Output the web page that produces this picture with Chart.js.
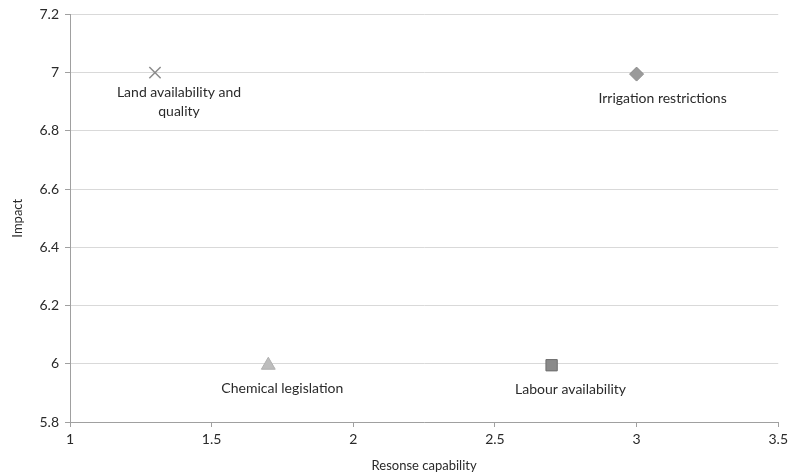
<!DOCTYPE html>
<html>
<head>
<meta charset="utf-8">
<script src="https://cdn.jsdelivr.net/npm/chart.js@4.4.0/dist/chart.umd.min.js"></script>
<style>
html,body{margin:0;padding:0;background:#fff;}
#wrap{width:792px;height:476px;}
</style>
</head>
<body>
<div id="wrap"><canvas id="c" width="792" height="476"></canvas></div>
<script>
const categories = ["Land availability and\nquality", "Irrigation restrictions", "Chemical legislation", "Labour availability"];
const responseCapability = [1.3, 3.0, 1.7, 2.7];
const impact = [7.0, 6.995, 5.995, 5.995];
const xTicks = [1, 1.5, 2, 2.5, 3, 3.5];
const yTicks = [5.8, 6, 6.2, 6.4, 6.6, 6.8, 7, 7.2];

const markerStyles = ["crossRot", "rectRot", "triangle", "rect"];
const markerFill = ["#8c8c8c", "#9a9a9a", "#bdbdbd", "#8a8a8a"];
const markerBorder = ["#8c8c8c", "#8a8a8a", "#b0b0b0", "#6e6e6e"];
const markerRadius = [8, 7, 8, 8];
const labelDx = [24, 26, 14, 19];
const labelDy = [20, 24, 23, 24];

const FONT = "Lato, 'Open Sans', sans-serif";

const labelPlugin = {
  id: 'pointLabels',
  afterDatasetsDraw(chart) {
    const ctx = chart.ctx;
    ctx.save();
    ctx.font = "14px " + FONT;
    ctx.fillStyle = "#2a2a2a";
    ctx.textAlign = "center";
    ctx.textBaseline = "middle";
    chart.data.datasets.forEach((ds, i) => {
      const el = chart.getDatasetMeta(i).data[0];
      const lines = categories[i].split("\n");
      lines.forEach((ln, k) => {
        ctx.fillText(ln, el.x + labelDx[i], el.y + labelDy[i] + k * 19);
      });
    });
    ctx.restore();
  }
};

const datasets = categories.map((c, i) => ({
  label: c,
  data: [{x: responseCapability[i], y: impact[i]}],
  pointStyle: markerStyles[i],
  pointRadius: markerRadius[i],
  pointHoverRadius: markerRadius[i],
  backgroundColor: markerFill[i],
  borderColor: markerBorder[i],
  borderWidth: i === 0 ? 1.5 : 1
}));

new Chart(document.getElementById('c'), {
  type: 'scatter',
  data: { datasets },
  plugins: [labelPlugin],
  options: {
    responsive: false,
    animation: false,
    layout: { padding: { left: 10, right: 12, top: 14, bottom: 0 } },
    plugins: { legend: { display: false }, tooltip: { enabled: false } },
    scales: {
      x: {
        type: 'linear',
        min: 1, max: 3.5,
        afterBuildTicks(axis) { axis.ticks = xTicks.map(v => ({value: v})); },
        afterFit(axis) { axis.height = 54; },
        grid: { drawOnChartArea: false, drawTicks: true, tickLength: 5, color: "#a0a0a0" },
        border: { color: "#a0a0a0" },
        ticks: { font: { family: FONT, size: 14 }, color: "#2a2a2a", padding: 4, maxRotation: 0, callback: v => String(v) },
        title: { display: true, text: "Resonse capability", font: { family: FONT, size: 13 }, color: "#2a2a2a", padding: { top: 0, bottom: 2 } }
      },
      y: {
        type: 'linear',
        min: 5.8, max: 7.2,
        afterBuildTicks(axis) { axis.ticks = yTicks.map(v => ({value: v})); },
        afterFit(axis) { axis.width = 60; },
        grid: { color: "#d9d9d9", tickColor: "#a0a0a0", tickLength: 5, lineWidth: 1 },
        border: { color: "#a0a0a0" },
        ticks: { font: { family: FONT, size: 14 }, color: "#2a2a2a", padding: 6, callback: v => String(v) },
        title: { display: true, text: "Impact", font: { family: FONT, size: 13 }, color: "#2a2a2a", padding: 0 }
      }
    }
  }
});
</script>
</body>
</html>
